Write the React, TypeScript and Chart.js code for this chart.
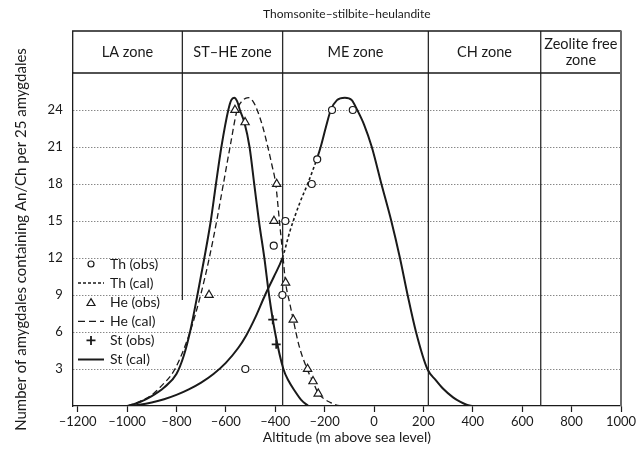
import React, { useEffect, useRef } from "react";
import { Chart, registerables } from "chart.js";

Chart.register(...registerables);

const FONT = "Lato, 'DejaVu Sans', sans-serif";
const INK = "#1a1a1a";

// ---- text ----
const chartTitle = "Thomsonite–stilbite–heulandite";
const xAxisTitle = "Altitude (m above sea level)";
const yAxisTitle = "Number of amygdales containing An/Ch per 25 amygdales";

// ---- axes ----
const xTickValues = [-1200, -1000, -800, -600, -400, -200, 0, 200, 400, 600, 800, 1000];
const yTickValues = [3, 6, 9, 12, 15, 18, 21, 24];
const xRange = [-1220, 1000];
const yRange = [0, 27];

// ---- zones ----
const zoneLabels = [["LA zone"], ["ST–HE zone"], ["ME zone"], ["CH zone"], ["Zeolite free", "zone"]];
const zoneBoundaries = [-776, -370, 220, 675];
const zoneBoundaryBottoms = [8.6, 0, 0, 0];

// ---- observed ----
const thObsX = [-521, -406, -371, -359, -252, -230, -170, -86];
const thObsY = [3, 13, 9, 15, 18, 20, 24, 24];
const heObsX = [-668, -563, -522, -405, -394, -358, -327, -269, -247, -226];
const heObsY = [9, 24, 23, 15, 18, 10, 7, 3, 2, 1];
const stObsX = [-410, -396];
const stObsY = [7, 5];

// ---- calculated ----
const thCalX = [-1000, -950, -900, -850, -800, -750, -700, -650, -600, -550, -518, -480, -441, -405, -371, -340, -300, -269, -232, -216, -195, -175, -150, -118, -90, -68, -40, -9, 30, 70, 105, 136, 170, 216, 250, 280, 320, 348, 375, 400];
const thCalY = [0, 0.1, 0.28, 0.55, 0.9, 1.35, 1.9, 2.6, 3.5, 4.7, 5.7, 7.2, 9, 10.5, 12, 14.2, 16.5, 18, 20, 21, 22.6, 24, 24.8, 25, 24.8, 24, 22.8, 21, 18, 15, 12, 9, 6, 3, 2.1, 1.4, 0.7, 0.35, 0.1, 0];
const thCalDashedSpan = [-375, -225];

const heCalX = [-1000, -950, -900, -867, -806, -745, -702, -667, -637, -610, -583, -554, -530, -509, -490, -473, -450, -430, -413, -398, -383, -368, -358, -342, -327, -305, -271, -248, -225, -200, -178, -155, -130];
const heCalY = [0, 0.35, 0.9, 1.5, 3, 6, 9, 12, 15, 18, 21, 24, 24.8, 25, 24.7, 24, 22.6, 21, 19.5, 18, 15, 12, 10, 8.4, 7, 5, 3, 2, 1, 0.55, 0.3, 0.1, 0];

const stCalX = [-1000, -950, -900, -850, -800, -770, -745, -715, -687, -661, -640, -618, -590, -578, -566, -554, -543, -525, -504, -485, -466, -444, -425, -401, -367, -345, -320, -295, -266];
const stCalY = [0, 0.3, 0.8, 1.5, 2.6, 4.1, 6, 9, 12, 15, 18, 21, 24, 24.8, 25, 24.7, 24, 23, 21, 18, 15, 12, 9, 6, 3, 2, 1.2, 0.5, 0];

const pts = (xs: number[], ys: number[]) => xs.map((x, i) => ({ x, y: ys[i] }));
const fmt = (v: number) => (v < 0 ? "–" + Math.abs(v) : String(v));

const HEADER_TOP = 31;

const framePlugin = {
  id: "frame",
  beforeDatasetsDraw(chart: any) {
    const { ctx, scales } = chart;
    const x = scales.x, y = scales.y;
    ctx.save();
    ctx.strokeStyle = "#2a2a2a";
    ctx.lineWidth = 1.3;
    zoneBoundaries.forEach((b, i) => {
      const px = x.getPixelForValue(b);
      ctx.beginPath();
      ctx.moveTo(px, HEADER_TOP);
      ctx.lineTo(px, y.getPixelForValue(zoneBoundaryBottoms[i]));
      ctx.stroke();
    });
    ctx.restore();
  },
  afterDraw(chart: any) {
    const { ctx, chartArea: ca, scales } = chart;
    const x = scales.x;
    ctx.save();
    ctx.strokeStyle = INK;
    ctx.lineWidth = 1.3;
    ctx.beginPath();
    ctx.moveTo(ca.left, ca.top);
    ctx.lineTo(ca.left, HEADER_TOP);
    ctx.lineTo(ca.right, HEADER_TOP);
    ctx.moveTo(ca.left, ca.top);
    ctx.lineTo(ca.right, ca.top);
    ctx.stroke();
    ctx.strokeStyle = "#6a6a6a";
    ctx.lineWidth = 2;
    ctx.beginPath();
    ctx.moveTo(ca.right, HEADER_TOP - 0.6);
    ctx.lineTo(ca.right, ca.bottom);
    ctx.stroke();
    ctx.fillStyle = INK;
    ctx.textAlign = "center";
    ctx.textBaseline = "middle";
    ctx.font = `12px ${FONT}`;
    ctx.fillText(chartTitle, (ca.left + ca.right) / 2, 14);
    ctx.font = `14.5px ${FONT}`;
    const edges = [ca.left, ...zoneBoundaries.map((b) => x.getPixelForValue(b)), ca.right];
    const midY = (HEADER_TOP + ca.top) / 2;
    zoneLabels.forEach((lines, i) => {
      const cx = (edges[i] + edges[i + 1]) / 2;
      const lh = 16;
      lines.forEach((t, j) => {
        ctx.fillText(t, cx, midY + (j - (lines.length - 1) / 2) * lh);
      });
    });
    ctx.restore();
  },
  afterDatasetsDraw(chart: any) {
    const { ctx } = chart;
    ctx.save();
    ctx.font = `14px ${FONT}`;
    ctx.textBaseline = "middle";
    ctx.textAlign = "left";
    chart.data.datasets.forEach((ds: any, i: number) => {
      const yy = 264 + i * 19.1;
      ctx.strokeStyle = INK;
      ctx.fillStyle = "#fff";
      if (ds.showLine) {
        ctx.lineWidth = ds.legendWidth || 1.5;
        ctx.setLineDash(ds.legendDash || []);
        ctx.beginPath();
        ctx.moveTo(78, yy);
        ctx.lineTo(104, yy);
        ctx.stroke();
        ctx.setLineDash([]);
      } else {
        const cx = 91;
        ctx.lineWidth = ds.pointBorderWidth;
        ctx.beginPath();
        if (ds.pointStyle === "circle") {
          ctx.arc(cx, yy, 3, 0, Math.PI * 2);
          ctx.fill();
          ctx.stroke();
        } else if (ds.pointStyle === "triangle") {
          const r = 4.6;
          for (let k = 0; k < 3; k++) {
            const a = (k * 2 * Math.PI) / 3;
            const px = cx + Math.sin(a) * r, py = yy + 1 - Math.cos(a) * r;
            if (k === 0) ctx.moveTo(px, py); else ctx.lineTo(px, py);
          }
          ctx.closePath();
          ctx.fill();
          ctx.stroke();
        } else {
          ctx.moveTo(cx - 4.5, yy); ctx.lineTo(cx + 4.5, yy);
          ctx.moveTo(cx, yy - 4.5); ctx.lineTo(cx, yy + 4.5);
          ctx.stroke();
        }
      }
      ctx.fillStyle = INK;
      ctx.fillText(ds.label, 110, yy);
    });
    ctx.restore();
  },
};

export default function App() {
  const ref = useRef<HTMLCanvasElement>(null);
  useEffect(() => {
    document.body.style.margin = "0";
    Chart.defaults.font.family = FONT;
    Chart.defaults.color = INK;
    const pointCommon = { showLine: false, pointBackgroundColor: "#fff", pointBorderColor: INK, order: 0 };
    const lineCommon = { showLine: true, pointRadius: 0, borderColor: INK, cubicInterpolationMode: "monotone", order: 1 };
    const chart = new Chart(ref.current!, {
      type: "scatter",
      data: {
        datasets: [
          { label: "Th (obs)", data: pts(thObsX, thObsY), pointStyle: "circle", pointRadius: 3.5, pointBorderWidth: 1.2, ...pointCommon },
          {
            label: "Th (cal)", data: pts(thCalX, thCalY), borderWidth: 2, legendDash: [3, 2], legendWidth: 1.5, ...lineCommon,
            segment: {
              borderDash: (c: any) => (c.p0.parsed.x >= thCalDashedSpan[0] && c.p1.parsed.x <= thCalDashedSpan[1] ? [3, 2.5] : undefined),
              borderWidth: (c: any) => (c.p0.parsed.x >= thCalDashedSpan[0] && c.p1.parsed.x <= thCalDashedSpan[1] ? 1.6 : undefined),
            },
          },
          { label: "He (obs)", data: pts(heObsX, heObsY), pointStyle: "triangle", pointRadius: 4.8, pointBorderWidth: 1.2, ...pointCommon },
          { label: "He (cal)", data: pts(heCalX, heCalY), borderWidth: 1.3, borderDash: [6, 3.5], legendDash: [7, 4], legendWidth: 1.3, ...lineCommon },
          { label: "St (obs)", data: pts(stObsX, stObsY), pointStyle: "cross", pointRadius: 4.5, pointBorderWidth: 1.8, ...pointCommon },
          { label: "St (cal)", data: pts(stCalX, stCalY), borderWidth: 2, legendWidth: 2, ...lineCommon },
        ] as any,
      },
      options: {
        responsive: false,
        animation: false,
        devicePixelRatio: 1,
        layout: { padding: { top: 73, right: 22, left: 0, bottom: 0 } },
        plugins: { legend: { display: false }, tooltip: { enabled: false }, title: { display: false } },
        scales: {
          x: {
            type: "linear",
            min: xRange[0],
            max: xRange[1],
            afterBuildTicks: (s: any) => { s.ticks = xTickValues.map((v) => ({ value: v })); },
            afterFit: (s: any) => { s.height = 44; },
            ticks: { font: { size: 13 }, color: INK, padding: 2, maxRotation: 0, autoSkip: false, callback: (v: any) => fmt(Number(v)) },
            grid: { drawOnChartArea: false, drawTicks: true, tickLength: 6, tickColor: INK, tickWidth: 1.2 },
            border: { display: true, color: INK, width: 1.3 },
            title: { display: true, text: xAxisTitle, font: { size: 14 }, color: INK, padding: { top: 0, bottom: 4 } },
          },
          y: {
            type: "linear",
            min: yRange[0],
            max: yRange[1],
            afterBuildTicks: (s: any) => { s.ticks = yTickValues.map((v) => ({ value: v })); },
            afterFit: (s: any) => { s.width = 72.7; },
            ticks: { font: { size: 13 }, color: INK, padding: 10, autoSkip: false },
            grid: { drawTicks: false, color: "#555", lineWidth: 1 },
            border: { display: true, color: INK, width: 1.3, dash: [1, 2] },
            title: { display: true, text: yAxisTitle, font: { size: 15 }, color: INK, padding: { top: 12, bottom: 0 } },
          },
        },
      },
      plugins: [framePlugin],
    } as any);
    return () => chart.destroy();
  }, []);
  return (
    <div style={{ width: 643, height: 450 }}>
      <canvas ref={ref} width={643} height={450} style={{ display: "block" }} />
    </div>
  );
}
